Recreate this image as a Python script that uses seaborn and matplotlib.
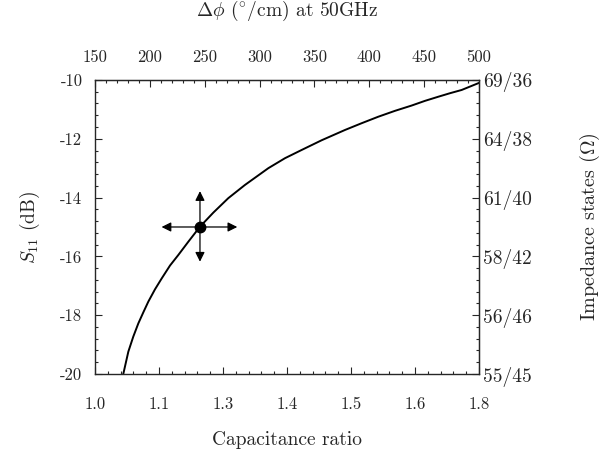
import numpy as np
import matplotlib
matplotlib.use('Agg')
import matplotlib.pyplot as plt
import seaborn as sns
from matplotlib.ticker import MultipleLocator, AutoMinorLocator

# curve (x = phase shift, y = S11)
dphi = [175.8, 180.4, 184.9, 189.5, 194.1, 198.6, 204.7, 210.8, 218.4, 226.0,
        235.1, 245.7, 257.9, 271.5, 286.7, 308.0, 323.2, 338.4, 356.6, 377.9,
        393.1, 408.2, 423.4, 438.6, 450.8, 462.9, 473.6, 484.2, 500.0]
s11 = [-20.0, -19.24, -18.73, -18.28, -17.90, -17.54, -17.12, -16.75, -16.31,
       -15.95, -15.50, -14.99, -14.51, -14.02, -13.57, -13.0, -12.66, -12.38,
       -12.05, -11.70, -11.47, -11.25, -11.05, -10.87, -10.71, -10.57, -10.45,
       -10.34, -10.1]

# marked operating point
op_x, op_y = 245.7, -15.0

cap_labels = ['1.0', '1.1', '1.3', '1.4', '1.5', '1.6', '1.8']
top_ticks = [150, 200, 250, 300, 350, 400, 450, 500]
left_ticks = [-20, -18, -16, -14, -12, -10]
imp_labels = ['55/45', '56/46', '58/42', '61/40', '64/38', '69/36']

sns.set_style('ticks')
plt.rcParams['font.family'] = ['cmr10', 'DejaVu Serif']
plt.rcParams['mathtext.fontset'] = 'cm'
plt.rcParams['axes.unicode_minus'] = False
fs_tick = 12
fs_lab = 14

fig = plt.figure(figsize=(6.1, 4.57), dpi=100)
ax = fig.add_axes([0.1557, 0.1816, 0.6295, 0.6434])

sns.lineplot(x=dphi, y=s11, ax=ax, color='black', linewidth=1.4)
ax.plot([op_x], [op_y], 'o', color='black', markersize=7.5, zorder=5)

# arrows around the point
arr = dict(arrowstyle='-|>', color='black', lw=0.9, mutation_scale=14,
           shrinkA=0, shrinkB=0)
for dx, dy in [(-35, 0), (34, 0), (0, 1.22), (0, -1.18)]:
    ax.annotate('', xy=(op_x + dx, op_y + dy), xytext=(op_x, op_y),
                arrowprops=arr)

ax.set_xlim(150, 500)
ax.set_ylim(-20, -10)
for sp in ax.spines.values():
    sp.set_linewidth(1.0)

# bottom: capacitance ratio labels (evenly spaced)
ax.set_xticks(np.linspace(150, 500, len(cap_labels)))
ax.set_xticklabels(cap_labels, fontsize=fs_tick)
ax.xaxis.set_minor_locator(AutoMinorLocator(5))
ax.set_yticks(left_ticks)
ax.set_yticklabels([str(v) for v in left_ticks], fontsize=fs_tick)
ax.yaxis.set_minor_locator(MultipleLocator(0.4))
ax.tick_params(which='both', direction='in', width=0.8)
ax.tick_params(which='major', length=5)
ax.tick_params(axis='x', which='major', pad=16)
ax.tick_params(axis='y', which='major', pad=9)
ax.tick_params(which='minor', length=2.5)
ax.set_xlabel('Capacitance ratio', fontsize=fs_lab, labelpad=14)
ax.set_ylabel(r'$S_{11}$ (dB)', fontsize=fs_lab, labelpad=13)

# top: phase shift
top = ax.secondary_xaxis('top')
top.set_xticks(top_ticks)
top.set_xticklabels([str(v) for v in top_ticks], fontsize=fs_tick)
top.xaxis.set_minor_locator(MultipleLocator(10))
top.tick_params(which='both', direction='in', width=0.8)
top.tick_params(which='major', length=5, pad=11)
top.tick_params(which='minor', length=2.5)
top.set_xlabel(r'$\Delta\phi$ ($^{\circ}$/cm) at 50GHz', fontsize=fs_lab, labelpad=24)

# right: impedance states
right = ax.secondary_yaxis('right')
right.set_yticks(left_ticks)
right.set_yticklabels(imp_labels, fontsize=14)
right.yaxis.set_minor_locator(MultipleLocator(0.4))
right.tick_params(which='both', direction='in', width=0.8)
right.tick_params(which='major', length=5, pad=3)
right.tick_params(which='minor', length=2.5)
right.set_ylabel(r'Impedance states ($\Omega$)', fontsize=14.5, labelpad=33)

fig.savefig('out.png', dpi=100)
